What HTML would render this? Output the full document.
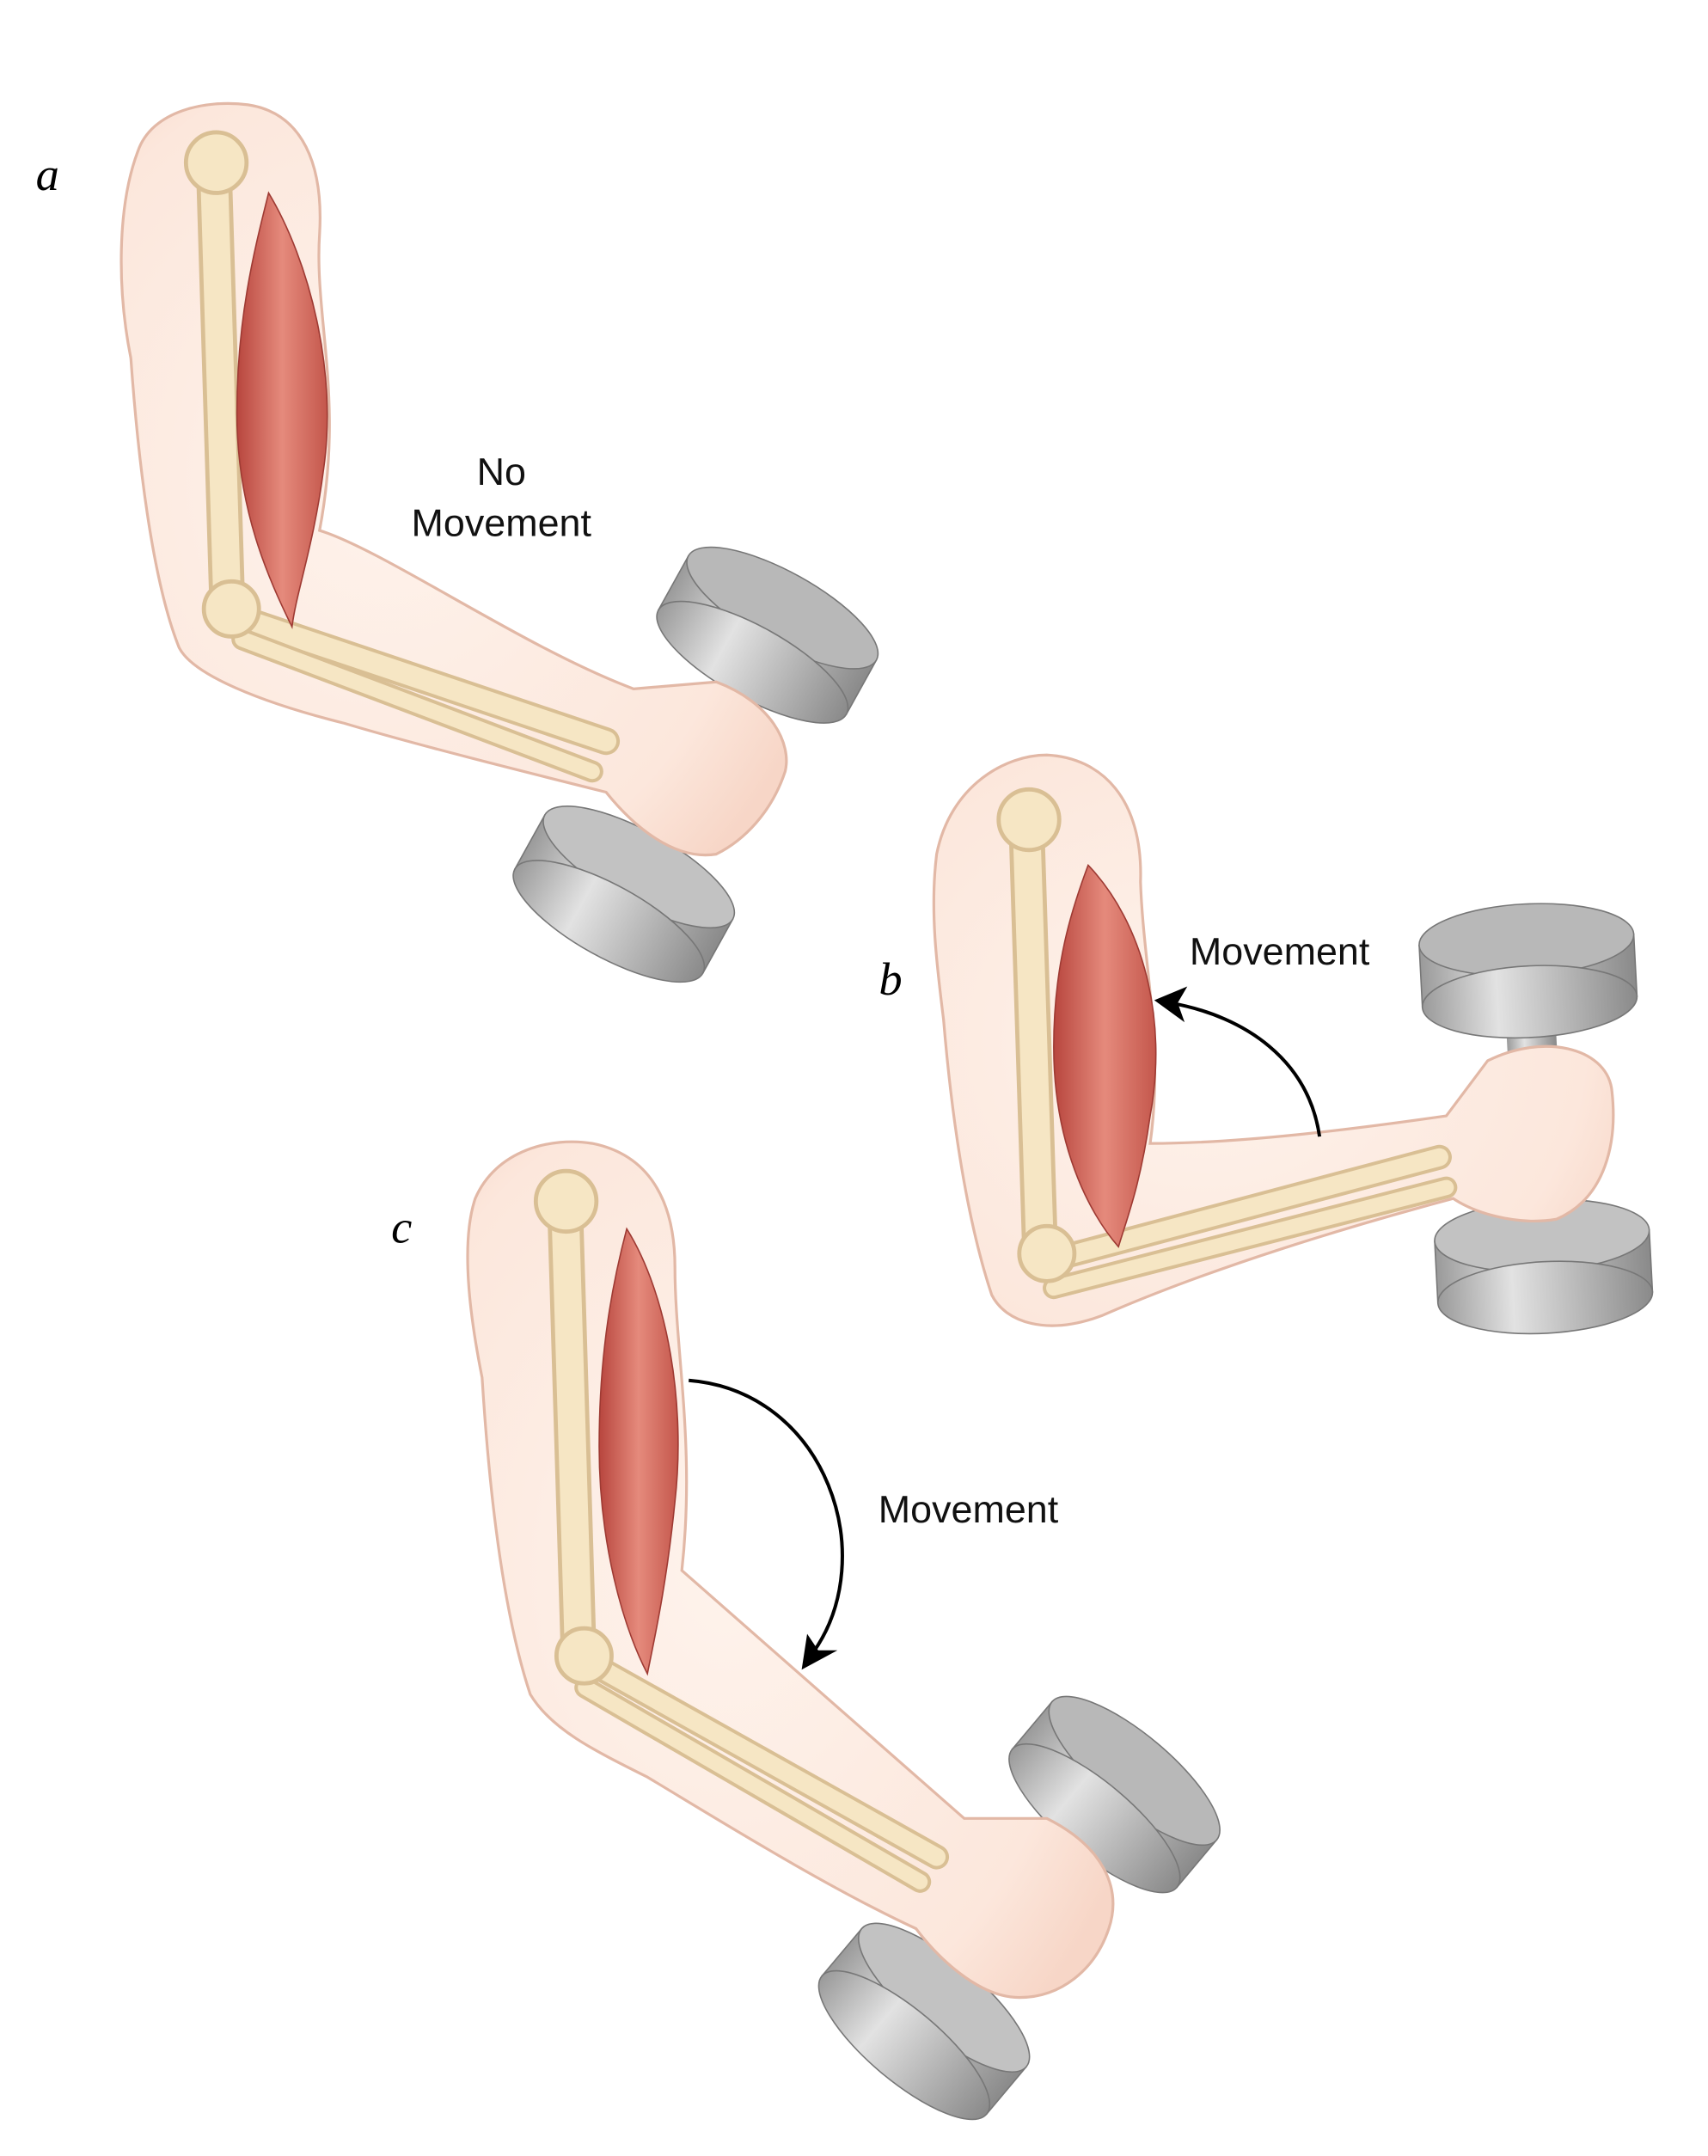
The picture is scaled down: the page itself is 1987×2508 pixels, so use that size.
<!DOCTYPE html>
<html><head><meta charset="utf-8"><style>
html,body{margin:0;padding:0;background:#fff;width:1987px;height:2508px;overflow:hidden}
svg{display:block}
</style></head><body>
<svg width="1987" height="2508" viewBox="0 0 1240 1565" xmlns="http://www.w3.org/2000/svg">
<defs>
<radialGradient id="skin" cx="0.4" cy="0.5" r="0.7">
<stop offset="0" stop-color="#fef3ec"/><stop offset="0.8" stop-color="#fce7dc"/><stop offset="1" stop-color="#f7d6c7"/>
</radialGradient>
<linearGradient id="mus" x1="0" x2="1" y1="0" y2="0">
<stop offset="0" stop-color="#b8463e"/><stop offset="0.5" stop-color="#e58a7c"/><stop offset="1" stop-color="#c4574c"/>
</linearGradient>
<linearGradient id="metal" x1="0" x2="1">
<stop offset="0" stop-color="#9a9a9a"/><stop offset="0.35" stop-color="#e2e2e2"/><stop offset="1" stop-color="#8a8a8a"/>
</linearGradient>
<g id="bell">
<rect x="-18" y="-80" width="36" height="160" fill="url(#metal)"/>
<rect x="-78" y="-130" width="156" height="45" fill="url(#metal)" stroke="#777" stroke-width="1"/>
<ellipse cx="0" cy="-130" rx="78" ry="26" fill="#b8b8b8" stroke="#777" stroke-width="1"/>
<ellipse cx="0" cy="-85" rx="78" ry="26" fill="url(#metal)" stroke="#777" stroke-width="1"/>
<rect x="-78" y="85" width="156" height="45" fill="url(#metal)" stroke="#777" stroke-width="1"/>
<ellipse cx="0" cy="85" rx="78" ry="26" fill="#c2c2c2" stroke="#777" stroke-width="1"/>
<ellipse cx="0" cy="130" rx="78" ry="26" fill="url(#metal)" stroke="#777" stroke-width="1"/>
</g>
</defs>

<g transform="translate(505,555) rotate(29)"><use href="#bell"/></g>
<g transform="translate(1115,812) rotate(-3)"><use href="#bell"/></g>
<g transform="translate(740,1385) rotate(40)"><use href="#bell"/></g>

<!-- Arm a -->
<path d="M100,110 C110,80 150,72 180,76 C220,82 235,120 232,170 C228,230 250,290 232,385 C280,400 380,470 460,500 L520,495 C560,510 575,540 570,560 C560,590 540,610 520,620 C490,625 460,600 440,575 C380,560 300,540 250,525 C190,510 140,490 130,470 C110,420 100,330 95,260 C85,210 85,150 100,110 Z" fill="url(#skin)" stroke="#e2b8a6" stroke-width="2"/>
<g stroke-linecap="round" fill="none">
<line x1="155" y1="112" x2="165" y2="440" stroke-width="26" stroke="#d9bf94"/>
<line x1="155" y1="112" x2="165" y2="440" stroke="#f6e6c4" stroke-width="20"/>
<line x1="172" y1="448" x2="440" y2="538" stroke-width="20" stroke="#d9bf94"/>
<line x1="172" y1="448" x2="440" y2="538" stroke-width="15" stroke="#f6e6c4"/>
<line x1="176" y1="464" x2="430" y2="560" stroke-width="16" stroke="#d9bf94"/>
<line x1="176" y1="464" x2="430" y2="560" stroke-width="11" stroke="#f6e6c4"/>
</g>
<circle cx="157" cy="118" r="22" fill="#f6e6c4" stroke="#d9bf94" stroke-width="3"/>
<circle cx="168" cy="442" r="20" fill="#f6e6c4" stroke="#d9bf94" stroke-width="3"/>
<path d="M195,140 C225,190 245,270 235,340 C228,395 215,430 212,455 C195,420 172,370 172,300 C172,230 185,180 195,140 Z" fill="url(#mus)" stroke="#9e3a33"/>

<!-- Arm b -->
<path d="M680,620 C690,570 730,548 760,548 C800,550 830,580 828,640 C830,700 845,760 835,830 C900,830 980,820 1050,810 L1080,770 C1120,750 1165,760 1170,790 C1175,830 1165,870 1130,885 C1100,890 1070,880 1055,870 C980,890 880,920 800,955 C760,970 730,960 720,940 C700,880 690,800 685,740 C680,700 675,660 680,620 Z" fill="url(#skin)" stroke="#e2b8a6" stroke-width="2"/>
<g stroke-linecap="round" fill="none">
<line x1="745" y1="592" x2="755" y2="905" stroke-width="26" stroke="#d9bf94"/>
<line x1="745" y1="592" x2="755" y2="905" stroke-width="20" stroke="#f6e6c4"/>
<line x1="762" y1="915" x2="1045" y2="840" stroke-width="18" stroke="#d9bf94"/>
<line x1="762" y1="915" x2="1045" y2="840" stroke-width="13" stroke="#f6e6c4"/>
<line x1="765" y1="935" x2="1050" y2="862" stroke-width="16" stroke="#d9bf94"/>
<line x1="765" y1="935" x2="1050" y2="862" stroke-width="11" stroke="#f6e6c4"/>
</g>
<circle cx="747" cy="595" r="22" fill="#f6e6c4" stroke="#d9bf94" stroke-width="3"/>
<circle cx="760" cy="910" r="20" fill="#f6e6c4" stroke="#d9bf94" stroke-width="3"/>
<path d="M790,628 C830,670 848,740 835,810 C828,860 818,885 812,905 C790,880 765,830 765,760 C765,700 778,660 790,628 Z" fill="url(#mus)" stroke="#9e3a33"/>

<!-- Arm c -->
<path d="M345,870 C360,835 400,825 430,830 C470,838 490,870 490,920 C490,980 505,1050 495,1140 C540,1180 620,1250 700,1320 L760,1320 C800,1340 815,1370 805,1400 C795,1430 770,1450 740,1450 C710,1450 680,1420 665,1400 C600,1370 520,1320 470,1290 C430,1270 400,1255 385,1230 C365,1170 355,1080 350,1000 C340,950 335,900 345,870 Z" fill="url(#skin)" stroke="#e2b8a6" stroke-width="2"/>
<g stroke-linecap="round" fill="none">
<line x1="410" y1="868" x2="420" y2="1198" stroke-width="26" stroke="#d9bf94"/>
<line x1="410" y1="868" x2="420" y2="1198" stroke-width="20" stroke="#f6e6c4"/>
<line x1="430" y1="1208" x2="680" y2="1348" stroke-width="18" stroke="#d9bf94"/>
<line x1="430" y1="1208" x2="680" y2="1348" stroke-width="13" stroke="#f6e6c4"/>
<line x1="425" y1="1225" x2="668" y2="1366" stroke-width="16" stroke="#d9bf94"/>
<line x1="425" y1="1225" x2="668" y2="1366" stroke-width="11" stroke="#f6e6c4"/>
</g>
<circle cx="411" cy="872" r="22" fill="#f6e6c4" stroke="#d9bf94" stroke-width="3"/>
<circle cx="424" cy="1202" r="20" fill="#f6e6c4" stroke="#d9bf94" stroke-width="3"/>
<path d="M455,892 C485,940 498,1020 490,1090 C484,1150 475,1190 470,1215 C452,1180 435,1120 435,1050 C435,980 445,930 455,892 Z" fill="url(#mus)" stroke="#9e3a33"/>

<path d="M958,825 C950,770 905,738 850,728" fill="none" stroke="#000" stroke-width="2.5"/>
<path d="M838,726 L862,716 L855,728 L860,742 Z" fill="#000"/>
<path d="M500,1002 C600,1010 640,1130 590,1200" fill="none" stroke="#000" stroke-width="2.5"/>
<path d="M582,1212 L586,1186 L594,1198 L608,1198 Z" fill="#000"/>

<g font-family="Liberation Serif, serif" font-style="italic" font-size="34">
<text x="26" y="138">a</text>
<text x="638" y="722">b</text>
<text x="284" y="902">c</text>
</g>
<g font-family="Liberation Sans, sans-serif" font-size="28" fill="#111">
<text x="364" y="352" text-anchor="middle">No</text>
<text x="364" y="389" text-anchor="middle">Movement</text>
<text x="929" y="700" text-anchor="middle">Movement</text>
<text x="703" y="1105" text-anchor="middle">Movement</text>
</g>
</svg>
</body></html>
